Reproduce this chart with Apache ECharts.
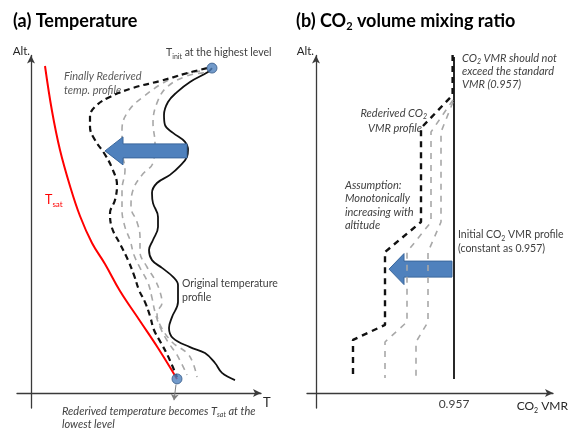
<!DOCTYPE html>
<html>
<head>
<meta charset="UTF-8">
<title>Temperature / CO2 VMR rederivation</title>
<style>
html, body { margin: 0; padding: 0; background: #fff; }
#main { width: 571px; height: 429px; }
</style>
</head>
<body>
<div id="main"></div>
<script src="https://cdn.jsdelivr.net/npm/echarts@6/dist/echarts.min.js"></script>
<script>
// ---- (a) temperature panel, T and altitude in arbitrary units ----
var tsatT   = [7, 10.5, 14.5, 19.5, 24.5, 30.5, 37, 44.5, 54.5, 63.5, 73];
var tsatAlt = [109, 94, 81, 69, 59, 50, 43, 34, 24, 15, 4.7];

var origT   = [90.5, 88.5, 79.5, 73, 68.5, 66.5, 67, 71, 77, 78.5, 78, 74.5, 69.5, 63, 60.5, 61, 63.5, 63.5, 61, 59, 60.5, 65.5, 71, 73.5, 73.5, 70.5, 69, 71, 79.5, 87, 92, 95.5, 102];
var origAlt = [108.3, 107, 103.7, 100.3, 97, 92.7, 89.3, 86.7, 83.7, 81, 78.7, 75.7, 72.7, 70, 66.7, 63.3, 58.7, 55.3, 51, 47.7, 44.3, 41.7, 38.7, 36, 30.3, 25.3, 21.7, 18.3, 15.3, 13.3, 10, 6.7, 4.3];

var iter1T   = [86.5, 78, 68, 63, 61, 62, 61, 55.5, 51, 50, 53, 54.5, 54.5, 58, 62, 64.5, 65.5, 63, 64.5, 70.5, 78, 81, 83];
var iter1Alt = [106.7, 105.7, 102, 96.7, 90, 83.3, 76.7, 72.7, 67.7, 62, 57, 52, 47, 42, 37.7, 33.7, 30, 26.7, 22.7, 17, 13.3, 10, 5.3];

var iter2T   = [84.5, 71, 56, 48, 45.5, 45.5, 47, 45.5, 45.5, 47, 49.5, 51.5, 54.5, 58.5, 60.5, 62, 64.5, 68.5, 73, 78];
var iter2Alt = [107.3, 105, 98.7, 93.3, 87.7, 81, 74.3, 67.7, 61, 55.3, 51, 46, 41.7, 36.7, 31.7, 27, 22, 17, 12.7, 6];

var finalT   = [88, 78.5, 64.5, 51, 39.5, 32.5, 29.5, 29.5, 32, 36.5, 40.5, 43, 42, 39.5, 40.5, 44.5, 48.5, 51.5, 54, 57, 59.5, 61.5, 65, 68.5, 73];
var finalAlt = [108.3, 106.7, 104, 101.7, 98.7, 95.7, 92.3, 88.7, 84.3, 80, 75, 69.3, 64.3, 60, 55, 49.7, 44.3, 39.3, 34.3, 30.3, 25.7, 21, 16.7, 12.3, 5.3];

var levelDots = [[90.5, 108.3], [73, 4.7]];
var tempShift = [[78, 37, 80.7]];        // [from T, to T, altitude]

// ---- (b) CO2 VMR panel ----
var vmrTickPos  = [69];
var vmrTickText = ['0.957'];

var vmrInitV   = [69, 69];
var vmrInitAlt = [112, 4.7];

var vmrIter1V   = [68.5, 62.5, 62.5, 56, 56, 50, 50];
var vmrIter1Alt = [97, 87, 57, 47, 23.7, 17, 5];

var vmrIter2V   = [68.5, 57.5, 57.5, 45.5, 45.5, 34.5, 34.5];
var vmrIter2Alt = [97.7, 87, 57, 47, 23.7, 17, 5];

var vmrFinalV   = [68.3, 68.3, 52.5, 52.5, 34.5, 34.5, 18.5, 18.5];
var vmrFinalAlt = [112.7, 99.3, 88.3, 57, 47, 22.7, 17.7, 5];

var vmrShift = [[68, 36.5, 41.3]];

function zip(xs, ys) {
    var out = [];
    for (var i = 0; i < xs.length; i++) out.push([xs[i], ys[i]]);
    return out;
}

// block arrow pointing from value(0) to value(1) at height value(2)
function blockArrow(headLen, headHalf, shaftHalf) {
    return function (params, api) {
        var a = api.coord([api.value(0), api.value(2)]);
        var b = api.coord([api.value(1), api.value(2)]);
        var y = a[1], hx = b[0] + headLen;
        return {
            type: 'polygon',
            shape: { points: [
                [b[0], y], [hx, y - headHalf], [hx, y - shaftHalf], [a[0], y - shaftHalf],
                [a[0], y + shaftHalf], [hx, y + shaftHalf], [hx, y + headHalf]
            ] },
            style: { fill: '#4f81bd', stroke: '#3a679c', lineWidth: 1 }
        };
    };
}

var FONT = 'Lato, "Open Sans", sans-serif';

function label(x, y, text, size, color, opts) {
    opts = opts || {};
    var base = { fontSize: size, fill: color, fontFamily: FONT, fontStyle: opts.italic ? 'italic' : 'normal',
                 fontWeight: opts.bold ? 'bold' : 'normal', lineHeight: size + 4 };
    var sub = { fontSize: Math.round(size * 0.62), fill: color, fontFamily: FONT, fontStyle: base.fontStyle,
                fontWeight: base.fontWeight, verticalAlign: 'bottom', lineHeight: Math.round(size * 0.62) + 1 };
    return {
        type: 'text', x: x, y: y, silent: true,
        style: { text: text, align: opts.align || 'left', verticalAlign: 'middle', rich: { n: base, s: sub } }
    };
}

function axisStyle() {
    return { onZero: true, symbol: ['none', 'arrow'], symbolSize: [6, 8], lineStyle: { color: '#3a3a3a', width: 1.3 } };
}

function lineSeries(ax, data, color, width, dash, smooth, z) {
    return {
        type: 'line', xAxisIndex: ax, yAxisIndex: ax, data: data, showSymbol: false, smooth: smooth,
        z: z || 2, silent: true,
        lineStyle: { color: color, width: width, type: dash || 'solid' }
    };
}

var chart = echarts.init(document.getElementById('main'));
var option = {
    animation: false,
    backgroundColor: '#ffffff',
    grid: [
        { left: 17, top: 55.5, width: 244, height: 352.5, outerBoundsMode: 'none' },
        { left: 307, top: 55.5, width: 246, height: 352.5, outerBoundsMode: 'none' }
    ],
    xAxis: [
        { gridIndex: 0, type: 'value', min: -7, max: 115, axisLine: axisStyle(),
          axisTick: { show: false }, axisLabel: { show: false }, splitLine: { show: false } },
        { gridIndex: 1, type: 'value', min: -4.5, max: 118.5, axisLine: axisStyle(),
          axisTick: { show: false }, splitLine: { show: false },
          axisLabel: { customValues: vmrTickPos, fontSize: 12, color: '#404040', fontFamily: FONT, margin: -10,
                       formatter: function (v) { return vmrTickText[vmrTickPos.indexOf(v)] || ''; } } }
    ],
    yAxis: [
        { gridIndex: 0, type: 'value', min: -5, max: 112.5, axisLine: axisStyle(),
          axisTick: { show: false }, axisLabel: { show: false }, splitLine: { show: false } },
        { gridIndex: 1, type: 'value', min: -5, max: 112.5, axisLine: axisStyle(),
          axisTick: { show: false }, axisLabel: { show: false }, splitLine: { show: false } }
    ],
    series: [
        lineSeries(0, zip(tsatT, tsatAlt), '#ff0000', 2, 'solid', 0.4),
        lineSeries(0, zip(origT, origAlt), '#111111', 1.8, 'solid', 0.4),
        lineSeries(0, zip(iter1T, iter1Alt), '#a8a8a8', 1.6, [6, 5], 0.4),
        lineSeries(0, zip(iter2T, iter2Alt), '#a8a8a8', 1.6, [6, 5], 0.4),
        lineSeries(0, zip(finalT, finalAlt), '#111111', 2.2, [6, 4], 0.4),
        {
            type: 'custom', xAxisIndex: 0, yAxisIndex: 0, data: tempShift, z: 5, silent: true,
            encode: { x: [0, 1], y: 2 }, renderItem: blockArrow(18, 14, 7)
        },
        {
            type: 'scatter', xAxisIndex: 0, yAxisIndex: 0, data: levelDots, symbolSize: 10, z: 6, silent: true,
            itemStyle: { color: '#4f81bd', borderColor: '#385d8a', borderWidth: 1 },
            markLine: {
                silent: true, symbol: ['none', 'arrow'], symbolSize: 6, label: { show: false },
                lineStyle: { color: '#7f7f7f', width: 1, type: 'solid' },
                data: [[{ coord: [72.5, 2.8] }, { coord: [71.5, -2.4] }]]
            }
        },
        {
            type: 'custom', xAxisIndex: 1, yAxisIndex: 1, data: vmrShift, z: 1, silent: true,
            encode: { x: [0, 1], y: 2 }, renderItem: blockArrow(15, 15.5, 8)
        },
        lineSeries(1, zip(vmrInitV, vmrInitAlt), '#111111', 1.8, 'solid', false, 3),
        lineSeries(1, zip(vmrIter1V, vmrIter1Alt), '#a8a8a8', 1.6, [6, 6], false, 3),
        lineSeries(1, zip(vmrIter2V, vmrIter2Alt), '#a8a8a8', 1.6, [6, 6], false, 3),
        lineSeries(1, zip(vmrFinalV, vmrFinalAlt), '#111111', 2.4, [6, 5], false, 4)
    ],
    graphic: [
        label(13, 21, '{n|(a) Temperature}', 18, '#000', { bold: true }),
        label(296, 21, '{n|(b) CO}{s|2}{n| volume mixing ratio}', 18, '#000', { bold: true }),
        label(30, 51, '{n|Alt.}', 11.5, '#262626', { align: 'right' }),
        label(314, 51, '{n|Alt.}', 11.5, '#262626', { align: 'right' }),
        label(263, 403, '{n|T}', 13, '#262626'),
        label(568, 406, '{n|CO}{s|2}{n| VMR}', 12, '#262626', { align: 'right' }),
        label(166, 53, '{n|T}{s|init}{n| at the highest level}', 10.5, '#404040'),
        label(64, 76, '{n|Finally Rederived}', 11, '#595959', { italic: true }),
        label(64, 90, '{n|temp. profile}', 11, '#595959', { italic: true }),
        label(45, 200, '{n|T}{s|sat}', 12.5, '#ff0000'),
        label(182, 284, '{n|Original temperature}', 10.5, '#404040'),
        label(182, 298, '{n|profile}', 10.5, '#404040'),
        label(62, 411, '{n|Rederived temperature becomes T}{s|sat}{n| at the}', 11, '#404040', { italic: true }),
        label(62, 424, '{n|lowest level}', 11, '#404040', { italic: true }),
        label(462, 58, '{n|CO}{s|2}{n| VMR should not}', 11, '#404040', { italic: true }),
        label(462, 71, '{n|exceed the standard}', 11, '#404040', { italic: true }),
        label(462, 84, '{n|VMR (0.957)}', 11, '#404040', { italic: true }),
        label(427, 113, '{n|Rederived CO}{s|2}', 11, '#404040', { italic: true, align: 'right' }),
        label(422, 128, '{n|VMR profile}', 11, '#404040', { italic: true, align: 'right' }),
        label(345, 185, '{n|Assumption:}', 11, '#404040', { italic: true }),
        label(345, 198, '{n|Monotonically}', 11, '#404040', { italic: true }),
        label(345, 212, '{n|increasing with}', 11, '#404040', { italic: true }),
        label(345, 225, '{n|altitude}', 11, '#404040', { italic: true }),
        label(458, 235, '{n|Initial CO}{s|2}{n| VMR profile}', 10.5, '#404040'),
        label(458, 249, '{n|(constant as 0.957)}', 10.5, '#404040')
    ]
};
chart.setOption(option);
</script>
</body>
</html>
